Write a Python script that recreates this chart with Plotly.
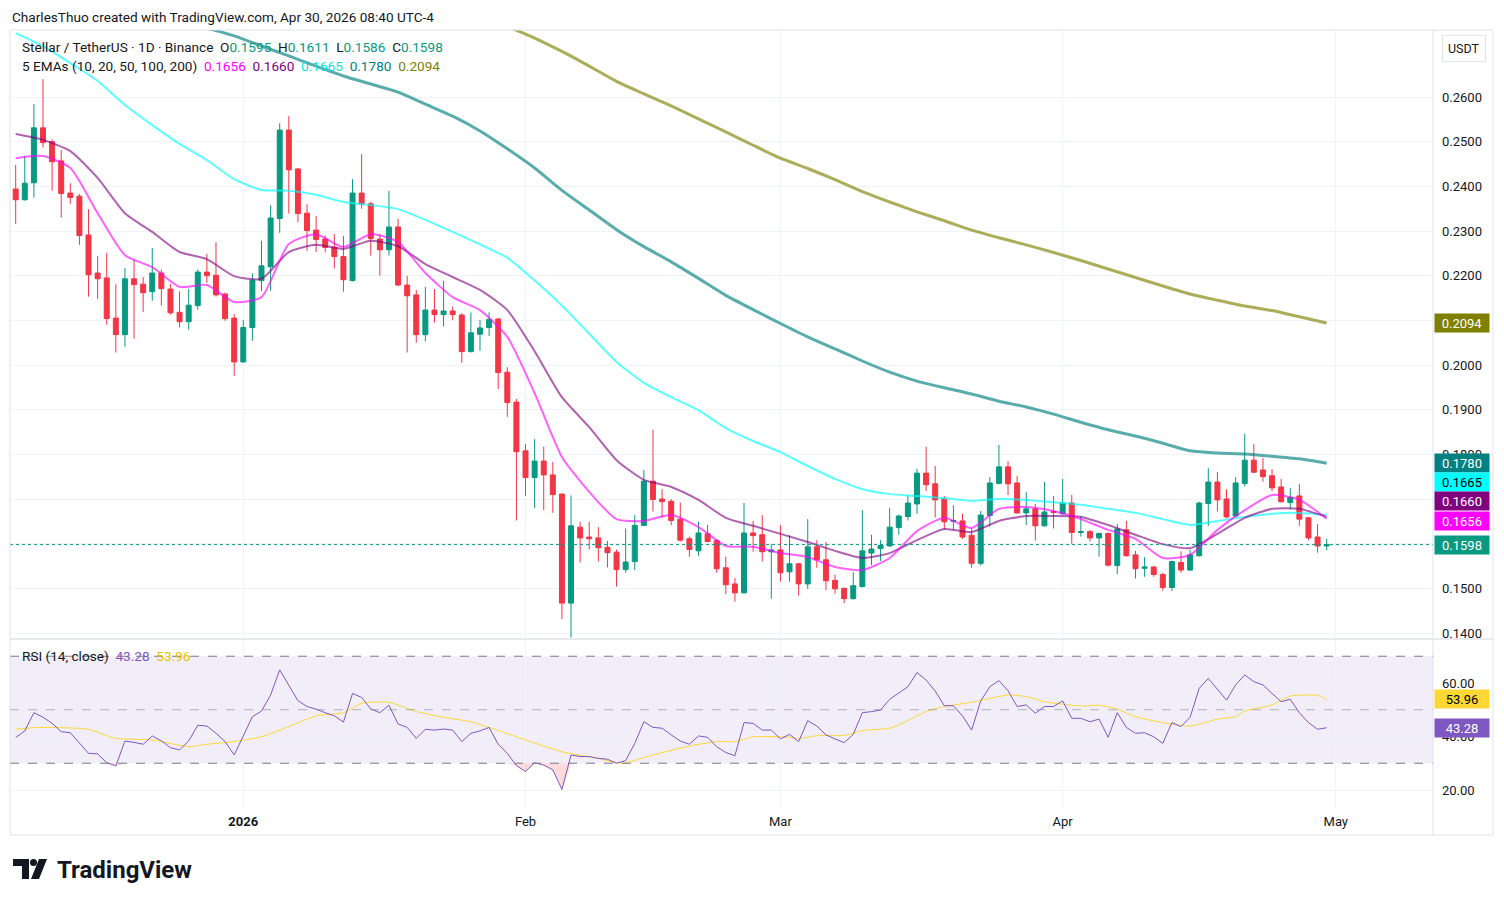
import plotly.graph_objects as go
import pandas as pd
import numpy as np

# ---------------- data ----------------
START_DATE = "2025-12-07"
N_DAYS = 145

OPEN = [0.2394,0.2370,0.2408,0.2531,0.2500,0.2457,0.2385,0.2378,0.2291,0.2206,0.2195,0.2105,0.2068,0.2193,0.2181,0.2164,0.2206,0.2170,0.2118,0.2097,0.2133,0.2208,0.2201,0.2159,0.2105,
        0.2007,0.2084,0.2189,0.2220,0.2328,0.2526,0.2439,0.2340,0.2302,0.2282,0.2264,0.2243,0.2189,0.2385,0.2361,0.2282,0.2258,0.2309,0.2179,0.2157,0.2068,0.2123,0.2113,0.2121,0.2112,0.2030,0.2069,0.2084,0.2103,0.1984,0.1917,
        0.1808,0.1748,0.1785,0.1754,0.1711,0.1467,0.1637,0.1615,0.1613,0.1592,0.1581,0.1542,0.1560,0.1641,0.1740,0.1700,0.1695,0.1655,0.1611,0.1584,0.1622,0.1607,0.1546,0.1510,0.1490,0.1624,0.1620,0.1582,
        0.1586,0.1537,0.1555,0.1510,0.1593,0.1564,0.1518,0.1500,0.1477,0.1504,0.1579,0.1589,0.1595,0.1636,0.1661,0.1689,0.1758,0.1734,0.1700,0.1650,0.1651,0.1619,0.1556,0.1663,0.1735,0.1772,0.1736,0.1669,0.1678,0.1640,0.1672,
        0.1667,0.1691,0.1625,0.1627,0.1613,0.1623,0.1551,0.1631,0.1575,0.1545,0.1548,0.1531,0.1502,0.1558,0.1541,0.1573,0.1690,0.1738,0.1700,0.1662,0.1735,0.1787,0.1765,0.1752,0.1727,0.1692,0.1707,0.1658,0.1615,0.1595]
HIGH = [0.2448,0.2468,0.2584,0.2640,0.2505,0.2481,0.2407,0.2383,0.2349,0.2244,0.2251,0.2181,0.2217,0.2235,0.2197,0.2262,0.2214,0.2181,0.2165,0.2170,0.2214,0.2249,0.2275,0.2162,0.2114,
        0.2101,0.2205,0.2278,0.2358,0.2541,0.2557,0.2441,0.2360,0.2334,0.2290,0.2293,0.2289,0.2416,0.2472,0.2365,0.2293,0.2390,0.2327,0.2200,0.2168,0.2175,0.2170,0.2188,0.2131,0.2116,0.2118,0.2101,0.2118,0.2105,0.1995,0.1924,
        0.1823,0.1834,0.1817,0.1783,0.1713,0.1708,0.1649,0.1649,0.1637,0.1606,0.1587,0.1634,0.1664,0.1765,0.1855,0.1722,0.1700,0.1692,0.1616,0.1649,0.1642,0.1610,0.1571,0.1523,0.1691,0.1651,0.1664,0.1599,
        0.1642,0.1619,0.1557,0.1655,0.1608,0.1604,0.1531,0.1502,0.1536,0.1675,0.1620,0.1608,0.1680,0.1665,0.1709,0.1768,0.1817,0.1774,0.1707,0.1686,0.1667,0.1635,0.1673,0.1749,0.1821,0.1785,0.1752,0.1716,0.1689,0.1738,0.1707,
        0.1745,0.1709,0.1662,0.1631,0.1625,0.1625,0.1644,0.1651,0.1584,0.1570,0.1550,0.1535,0.1562,0.1583,0.1586,0.1694,0.1769,0.1761,0.1722,0.1749,0.1846,0.1823,0.1792,0.1767,0.1745,0.1725,0.1734,0.1660,0.1644,0.1611]
LOW = [0.2316,0.2368,0.2375,0.2487,0.2390,0.2330,0.2361,0.2269,0.2153,0.2148,0.2090,0.2028,0.2041,0.2059,0.2119,0.2144,0.2133,0.2113,0.2084,0.2079,0.2124,0.2184,0.2153,0.2099,0.1976,
       0.2005,0.2054,0.2166,0.2166,0.2296,0.2339,0.2320,0.2256,0.2253,0.2252,0.2216,0.2164,0.2187,0.2350,0.2245,0.2200,0.2245,0.2177,0.2028,0.2050,0.2053,0.2095,0.2086,0.2101,0.2005,0.2028,0.2032,0.2065,0.1946,0.1884,0.1652,
       0.1707,0.1680,0.1675,0.1669,0.1431,0.1390,0.1558,0.1587,0.1560,0.1547,0.1504,0.1535,0.1541,0.1639,0.1672,0.1658,0.1641,0.1605,0.1571,0.1573,0.1603,0.1535,0.1487,0.1470,0.1488,0.1582,0.1560,0.1477,
       0.1515,0.1515,0.1484,0.1499,0.1546,0.1496,0.1488,0.1467,0.1475,0.1502,0.1552,0.1561,0.1593,0.1620,0.1652,0.1667,0.1718,0.1659,0.1632,0.1631,0.1611,0.1546,0.1551,0.1638,0.1733,0.1709,0.1667,0.1642,0.1607,0.1638,0.1634,
       0.1665,0.1600,0.1616,0.1605,0.1571,0.1549,0.1532,0.1571,0.1522,0.1526,0.1526,0.1495,0.1494,0.1535,0.1539,0.1571,0.1640,0.1672,0.1657,0.1660,0.1728,0.1758,0.1739,0.1718,0.1692,0.1678,0.1640,0.1608,0.1580,0.1586]
CLOSE = [0.2370,0.2407,0.2531,0.2498,0.2455,0.2384,0.2375,0.2290,0.2202,0.2193,0.2104,0.2068,0.2193,0.2180,0.2162,0.2206,0.2171,0.2117,0.2097,0.2134,0.2208,0.2200,0.2157,0.2104,0.2007,
         0.2084,0.2190,0.2222,0.2329,0.2526,0.2437,0.2339,0.2301,0.2281,0.2263,0.2243,0.2191,0.2385,0.2360,0.2283,0.2258,0.2309,0.2179,0.2155,0.2068,0.2123,0.2113,0.2121,0.2113,0.2030,0.2072,0.2083,0.2102,0.1983,0.1916,0.1806,
         0.1748,0.1785,0.1754,0.1710,0.1467,0.1640,0.1613,0.1611,0.1591,0.1580,0.1542,0.1559,0.1641,0.1740,0.1699,0.1694,0.1652,0.1608,0.1587,0.1624,0.1605,0.1544,0.1508,0.1490,0.1624,0.1618,0.1582,0.1586,
         0.1535,0.1555,0.1510,0.1593,0.1564,0.1517,0.1499,0.1477,0.1506,0.1584,0.1588,0.1596,0.1637,0.1662,0.1691,0.1758,0.1732,0.1698,0.1649,0.1652,0.1615,0.1556,0.1664,0.1736,0.1772,0.1734,0.1669,0.1678,0.1640,0.1671,0.1670,
         0.1691,0.1625,0.1627,0.1613,0.1623,0.1552,0.1633,0.1573,0.1544,0.1548,0.1531,0.1502,0.1560,0.1541,0.1575,0.1691,0.1738,0.1698,0.1660,0.1736,0.1787,0.1760,0.1750,0.1725,0.1694,0.1704,0.1655,0.1613,0.1595,0.1598]

# EMA readings every third day from the first candle
EMA10 = [0.2463,0.2468,0.2441,0.2340,0.2246,0.2219,0.2175,0.2179,0.2141,0.2152,0.2271,0.2293,0.2264,0.2293,0.2275,0.2206,0.2152,0.2123,0.2063,0.1937,
         0.1794,0.1716,0.1655,0.1651,0.1664,0.1637,0.1595,0.1593,0.1579,0.1570,0.1548,0.1541,0.1568,0.1628,0.1658,0.1635,0.1678,0.1682,0.1673,0.1655,
         0.1631,0.1611,0.1568,0.1575,0.1631,0.1675,0.1709,0.1698,0.1656]
EMA20 = [0.2517,0.2504,0.2479,0.2419,0.2340,0.2298,0.2253,0.2237,0.2199,0.2193,0.2253,0.2269,0.2260,0.2278,0.2266,0.2226,0.2197,0.2168,0.2123,0.2031,
         0.1928,0.1861,0.1787,0.1743,0.1727,0.1698,0.1658,0.1640,0.1622,0.1604,0.1584,0.1568,0.1579,0.1608,0.1633,0.1626,0.1651,0.1662,0.1662,0.1660,
         0.1642,0.1620,0.1599,0.1590,0.1622,0.1658,0.1678,0.1678,0.1660]
EMA50 = [0.2743,0.2714,0.2676,0.2636,0.2582,0.2537,0.2495,0.2459,0.2416,0.2392,0.2390,0.2381,0.2365,0.2358,0.2349,0.2325,0.2298,0.2270,0.2240,0.2189,
         0.2133,0.2070,0.2007,0.1960,0.1928,0.1899,0.1859,0.1830,0.1805,0.1774,0.1745,0.1722,0.1711,0.1707,0.1702,0.1696,0.1700,0.1698,0.1693,0.1687,
         0.1678,0.1669,0.1655,0.1642,0.1651,0.1660,0.1667,0.1669,0.1665]
EMA100_START = "2025-12-28"
EMA100 = [0.2754,0.2737,0.2714,0.2692,0.2669,0.2647,0.2629,0.2611,0.2584,0.2557,0.2524,0.2484,0.2441,0.2391,0.2347,0.2303,0.2265,0.2231,0.2194,0.2156,
          0.2124,0.2093,0.2063,0.2036,0.2009,0.1984,0.1964,0.1949,0.1935,0.1919,0.1906,0.1890,0.1872,0.1855,0.1841,0.1825,0.1808,0.1803,0.1801,0.1796,
          0.1790,0.1780]
EMA200_START = "2026-01-30"
EMA200 = [0.2758,0.2732,0.2702,0.2669,0.2635,0.2607,0.2580,0.2551,0.2522,0.2492,0.2463,0.2440,0.2415,0.2388,0.2365,0.2343,0.2323,0.2302,0.2285,0.2269,
          0.2252,0.2234,0.2215,0.2196,0.2177,0.2159,0.2145,0.2132,0.2122,0.2108,0.2094]

RSI = [39.6,42.1,48.9,47.2,44.9,41.8,41.4,37.4,33.7,33.5,30.2,29.0,38.3,37.8,37.1,40.2,38.4,35.8,35.0,38.3,44.2,43.9,41.2,38.1,33.1,
       40.2,47.4,49.5,55.5,64.9,59.3,53.4,51.2,50.2,48.9,47.7,45.4,56.1,54.6,50.3,48.9,51.7,44.7,43.4,39.3,42.7,42.4,42.8,42.4,38.1,41.2,42.1,43.4,37.1,33.7,29.1,
       26.9,30.2,29.3,27.5,20.2,33.1,32.5,32.5,31.8,31.5,30.0,31.0,37.4,45.5,43.4,43.1,40.6,38.3,37.1,40.2,39.7,36.2,34.0,32.8,45.2,44.9,42.4,42.4,
       39.1,40.8,38.1,45.9,43.9,40.6,39.1,37.7,40.8,48.9,49.3,49.9,53.9,56.1,58.6,63.9,61.1,57.0,51.5,51.5,47.7,42.4,53.3,58.6,60.9,57.1,51.2,51.8,48.7,51.2,51.2,
       53.3,46.8,46.8,45.5,46.5,39.7,48.9,43.4,41.2,41.4,39.9,37.4,45.2,43.7,47.2,58.0,61.7,57.6,53.6,59.3,63.0,60.5,59.3,56.1,53.0,53.9,48.9,45.2,42.7,43.28]

RSI_MA_DATES = ["2025-12-07","2025-12-09","2025-12-12","2025-12-15","2025-12-18","2025-12-22","2025-12-26","2025-12-28","2025-12-31",
                "2026-01-03","2026-01-06","2026-01-09","2026-01-12","2026-01-14","2026-01-17","2026-01-20","2026-01-23","2026-01-26","2026-01-28",
                "2026-02-01","2026-02-05","2026-02-09","2026-02-11","2026-02-12","2026-02-15","2026-02-19","2026-02-22","2026-02-24","2026-02-26",
                "2026-03-02","2026-03-03","2026-03-05","2026-03-08","2026-03-10","2026-03-13","2026-03-14","2026-03-17","2026-03-19","2026-03-22",
                "2026-03-26","2026-03-28","2026-03-30","2026-04-03","2026-04-05","2026-04-07","2026-04-09","2026-04-12","2026-04-15","2026-04-18",
                "2026-04-20","2026-04-21","2026-04-24","2026-04-26","2026-04-28","2026-04-29","2026-04-30"]
RSI_MA = [42.7,43.3,43.3,42.7,39.3,38.7,36.2,37.1,38.1,39.9,43.7,47.7,48.9,52.4,52.8,49.3,47.2,45.5,43.4,38.7,34.3,31.8,30.2,30.2,33.1,36.4,38.1,38.1,
          39.9,39.7,39.2,40.3,40.4,42.2,43.1,44.3,49.3,51.2,52.8,55.5,54.9,53.0,51.4,51.7,50.2,47.4,45.2,43.9,46.5,47.4,49.5,51.8,55.1,55.5,55.4,53.96]

PRICE_TICKS = [0.14,0.15,0.16,0.17,0.18,0.19,0.20,0.21,0.22,0.23,0.24,0.25,0.26]
PRICE_TICKS_HIDDEN = [0.16, 0.17, 0.21]   # covered by the value tags in the reference
RSI_TICKS = [20, 40, 60]
MONTH_TICKS = ["2026-01-01","2026-02-01","2026-03-01","2026-04-01","2026-05-01"]
MONTH_LABELS = ["<b>2026</b>","Feb","Mar","Apr","May"]

LAST_O, LAST_H, LAST_L, LAST_C = 0.1595, 0.1611, 0.1586, 0.1598

# ---------------- styling / geometry ----------------
W, H = 1504, 904
L, R, T, B = 10, 1433, 30, 808
def px_x(px): return (px - L) / (R - L)
def px_y(py): return (B - py) / (B - T)

GREEN, RED = "#089981", "#F23645"
TXT = "#131722"
GRID = "#f0f3fa"
FONT = "Roboto, 'Liberation Sans', sans-serif"

dates = pd.date_range(START_DATE, periods=N_DAYS, freq="D")
ema_dates = dates[::3]
ema100_dates = pd.date_range(EMA100_START, periods=len(EMA100), freq="3D")
ema200_dates = pd.date_range(EMA200_START, periods=len(EMA200), freq="3D")

fig = go.Figure()

fig.add_trace(go.Candlestick(
    x=dates, open=OPEN, high=HIGH, low=LOW, close=CLOSE,
    increasing=dict(line=dict(color=GREEN, width=1), fillcolor=GREEN),
    decreasing=dict(line=dict(color=RED, width=1), fillcolor=RED),
    whiskerwidth=0, xaxis="x", yaxis="y", showlegend=False, hoverinfo="skip"))

def ema_trace(x, y, color, width):
    return go.Scatter(x=x, y=y, mode="lines", line=dict(color=color, width=width, shape="spline", smoothing=0.6),
                      xaxis="x", yaxis="y", showlegend=False, hoverinfo="skip")

fig.add_trace(ema_trace(ema200_dates, EMA200, "rgba(128,128,0,0.65)", 3))
fig.add_trace(ema_trace(ema100_dates, EMA100, "rgba(0,128,128,0.65)", 3))
fig.add_trace(ema_trace(ema_dates, EMA50, "rgba(0,255,255,0.65)", 2))
fig.add_trace(ema_trace(ema_dates, EMA20, "rgba(128,0,128,0.62)", 2))
fig.add_trace(ema_trace(ema_dates, EMA10, "rgba(255,0,255,0.62)", 2))

# RSI oversold fill
rsi_arr = np.array(RSI)
fig.add_trace(go.Scatter(x=dates, y=[30]*N_DAYS, mode="lines", line=dict(width=0, color="rgba(0,0,0,0)"),
                         xaxis="x2", yaxis="y2", showlegend=False, hoverinfo="skip"))
fig.add_trace(go.Scatter(x=dates, y=np.minimum(rsi_arr, 30), mode="lines", line=dict(width=0, color="rgba(0,0,0,0)"),
                         fill="tonexty", fillcolor="rgba(242,54,69,0.18)",
                         xaxis="x2", yaxis="y2", showlegend=False, hoverinfo="skip"))
fig.add_trace(go.Scatter(x=RSI_MA_DATES, y=RSI_MA, mode="lines", line=dict(color="#fdd835", width=1, shape="spline", smoothing=0.6),
                         xaxis="x2", yaxis="y2", showlegend=False, hoverinfo="skip"))
fig.add_trace(go.Scatter(x=dates, y=RSI, mode="lines", line=dict(color="#7e57c2", width=1),
                         xaxis="x2", yaxis="y2", showlegend=False, hoverinfo="skip"))

X_RANGE = ["2025-12-06 09:00", "2026-05-11 16:19"]
PRICE_RANGE = [0.13889, 0.27500]
RSI_RANGE = [13.27, 76.07]

axis_font = dict(family=FONT, size=13, color=TXT)
price_text = ["" if any(abs(v - h) < 1e-9 for h in PRICE_TICKS_HIDDEN) else f"{v:.4f}" for v in PRICE_TICKS]
fig.update_layout(
    width=W, height=H, margin=dict(l=L, r=W - R, t=T, b=H - B),
    paper_bgcolor="white", plot_bgcolor="white",
    font=dict(family=FONT, color=TXT),
    boxgap=0.22,
    xaxis=dict(domain=[0, 1], anchor="y", range=X_RANGE, showticklabels=False, rangeslider=dict(visible=False),
               tickvals=MONTH_TICKS, showgrid=True, gridcolor=GRID, gridwidth=1, zeroline=False, showline=False, ticks=""),
    xaxis2=dict(domain=[0, 1], anchor="y2", range=X_RANGE, matches="x", tickvals=MONTH_TICKS, ticktext=MONTH_LABELS,
                showgrid=True, gridcolor=GRID, gridwidth=1, zeroline=False, showline=False, ticks="", tickfont=axis_font,
                ticklabelstandoff=4),
    yaxis=dict(domain=[px_y(638), 1], anchor="x", side="right", range=PRICE_RANGE, tickvals=PRICE_TICKS,
               ticktext=price_text, showgrid=True, gridcolor=GRID, zeroline=False, ticks="", tickfont=axis_font,
               ticklabelstandoff=8),
    yaxis2=dict(domain=[0, px_y(640)], anchor="x2", side="right", range=RSI_RANGE, tickvals=RSI_TICKS,
                ticktext=[f"{v:.2f}" for v in RSI_TICKS], showgrid=True, gridcolor=GRID, zeroline=False, ticks="",
                tickfont=axis_font, ticklabelstandoff=8),
)

shapes = []
shapes.append(dict(type="rect", xref="x2 domain", yref="y2", x0=0, x1=1, y0=30, y1=70,
                   fillcolor="rgba(126,87,194,0.1)", line=dict(width=0), layer="below"))
for lvl, col in [(70, "#787b86"), (30, "#787b86"), (50, "rgba(120,123,134,0.55)")]:
    shapes.append(dict(type="line", xref="x2 domain", yref="y2", x0=0, x1=1, y0=lvl, y1=lvl,
                       line=dict(color=col, width=1, dash="dash")))
shapes.append(dict(type="line", xref="x domain", yref="y", x0=0, x1=1, y0=LAST_C, y1=LAST_C,
                   line=dict(color=GREEN, width=1, dash="dot")))
FR = "#e0e3eb"
shapes.append(dict(type="rect", xref="paper", yref="paper", x0=px_x(10), x1=px_x(1493), y0=px_y(835), y1=px_y(30),
                   line=dict(color=FR, width=1), fillcolor="rgba(0,0,0,0)"))
shapes.append(dict(type="line", xref="paper", yref="paper", x0=px_x(10), x1=px_x(1493), y0=px_y(639), y1=px_y(639),
                   line=dict(color="#d1d4dc", width=1)))
shapes.append(dict(type="line", xref="paper", yref="paper", x0=px_x(1433), x1=px_x(1433), y0=px_y(835), y1=px_y(30),
                   line=dict(color=FR, width=1)))
def path(pts):
    return "M" + " L".join(f"{px_x(a)},{px_y(b)}" for a, b in pts) + " Z"
shapes.append(dict(type="path", xref="paper", yref="paper", path=path([(13, 859), (29, 859), (29, 879), (22, 879), (22, 866), (13, 866)]),
                   fillcolor=TXT, line=dict(width=0)))
shapes.append(dict(type="circle", xref="paper", yref="paper", x0=px_x(30), x1=px_x(37), y0=px_y(866), y1=px_y(859),
                   fillcolor=TXT, line=dict(width=0)))
shapes.append(dict(type="path", xref="paper", yref="paper", path=path([(39, 859), (47, 859), (39, 879), (31, 879)]),
                   fillcolor=TXT, line=dict(width=0)))
fig.update_layout(shapes=shapes)

ann = []
def text(px, py, t, size=13.6, color=TXT, anchor="left"):
    ann.append(dict(x=px_x(px), y=px_y(py), xref="paper", yref="paper", text=t, showarrow=False,
                    xanchor=anchor, yanchor="middle", font=dict(family=FONT, size=size, color=color)))

def span(v, c):
    return f"<span style='color:{c}'>{v}</span>"

text(10, 17, "CharlesThuo created with TradingView.com, Apr 30, 2026 08:40 UTC-4")
text(20, 47, "Stellar / TetherUS · 1D · Binance  O" + span(f"{LAST_O:.4f}", GREEN) + "  H" + span(f"{LAST_H:.4f}", GREEN)
     + "  L" + span(f"{LAST_L:.4f}", GREEN) + "  C" + span(f"{LAST_C:.4f}", GREEN))
text(20, 66, "5 EMAs (10, 20, 50, 100, 200)  " + span(f"{EMA10[-1]:.4f}", "#ff00ff") + "  " + span(f"{EMA20[-1]:.4f}", "#800080")
     + "  " + span(f"{EMA50[-1]:.4f}", "#00e5e5") + "  " + span(f"{EMA100[-1]:.4f}", "#008080") + "  "
     + span(f"{EMA200[-1]:.4f}", "#808000"))
text(20, 656, "RSI (14, close)  " + span(f"{RSI[-1]:.2f}", "#7e57c2") + "  " + span(f"{RSI_MA[-1]:.2f}", "#e6c200"))
text(55, 870, "<b>TradingView</b>", 24)

ann.append(dict(x=px_x(1464), y=px_y(49), xref="paper", yref="paper", text="USDT", showarrow=False,
                xanchor="center", yanchor="middle",
                font=dict(family=FONT, size=12.5, color=TXT), bordercolor=FR, borderwidth=1, borderpad=5, bgcolor="white"))

def tag(val, yref, txt, bg, fg, yshift=0):
    ann.append(dict(x=1, xref="paper", xanchor="left", xshift=1, y=val, yref=yref, yshift=yshift, yanchor="middle",
                    text=txt, showarrow=False, bgcolor=bg, font=dict(family=FONT, size=13, color=fg),
                    width=50, height=14, borderpad=2, align="center"))

tag(EMA200[-1], "y", f"{EMA200[-1]:.4f}", "#808000", "white")
tag(EMA100[-1], "y", f"{EMA100[-1]:.4f}", "#008080", "white")
tag(EMA50[-1], "y", f"{EMA50[-1]:.4f}", "#00ffff", "black", yshift=33)
tag(EMA20[-1], "y", f"{EMA20[-1]:.4f}", "#800080", "white", yshift=16)
tag(EMA10[-1], "y", f"{EMA10[-1]:.4f}", "#ff00ff", "white", yshift=-2)
tag(LAST_C, "y", f"{LAST_C:.4f}", GREEN, "white")
tag(RSI_MA[-1], "y2", f"{RSI_MA[-1]:.2f}", "#fdd835", "black")
tag(RSI[-1], "y2", f"{RSI[-1]:.2f}", "#7e57c2", "white")

fig.update_layout(annotations=ann)

fig.write_html("out.html", config={"displayModeBar": False},
               post_script="document.body.style.margin='0';document.body.style.overflow='hidden';")
